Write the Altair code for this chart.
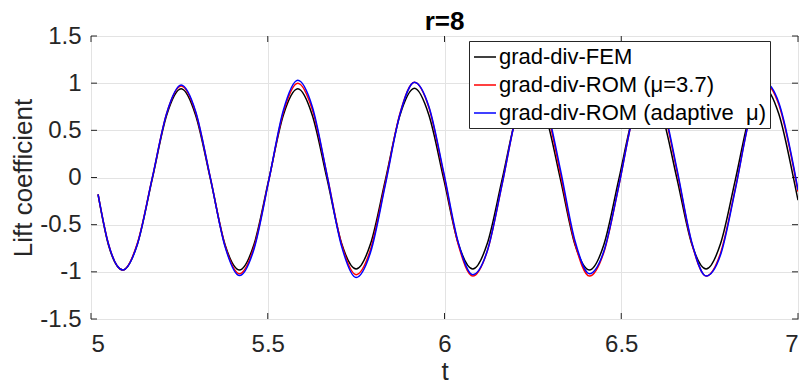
import altair as alt
import pandas as pd

# ---- data ----
t = [5.02, 5.049, 5.09, 5.131, 5.173, 5.214, 5.255, 5.296, 5.338, 5.379,
     5.42, 5.461, 5.503, 5.544, 5.585, 5.626, 5.668, 5.709, 5.75, 5.791,
     5.833, 5.874, 5.915, 5.956, 5.998, 6.039, 6.08, 6.121, 6.163, 6.204,
     6.245, 6.286, 6.328, 6.369, 6.41, 6.451, 6.493, 6.534, 6.575, 6.616,
     6.658, 6.699, 6.74, 6.781, 6.823, 6.864, 6.905, 6.946, 6.988, 7.0]

fem = [-0.18, -0.71, -0.98, -0.71, -0.02, 0.66, 0.94, 0.66, -0.02, -0.71,
       -0.98, -0.71, -0.02, 0.66, 0.94, 0.66, -0.02, -0.70, -0.97, -0.70,
       -0.02, 0.66, 0.945, 0.66, -0.02, -0.70, -0.97, -0.70, -0.02, 0.66,
       0.94, 0.66, -0.02, -0.71, -0.98, -0.71, -0.02, 0.66, 0.94, 0.66,
       -0.02, -0.70, -0.97, -0.70, -0.02, 0.67, 0.95, 0.67, -0.02, -0.24]

rom_37 = [-0.18, -0.70, -0.98, -0.70, -0.01, 0.68, 0.97, 0.69, -0.01, -0.72,
          -1.02, -0.74, -0.03, 0.69, 1.00, 0.72, 0.02, -0.71, -1.03, -0.76,
          -0.05, 0.68, 1.01, 0.74, 0.03, -0.71, -1.045, -0.78, -0.07, 0.67,
          1.01, 0.75, 0.04, -0.70, -1.045, -0.79, -0.09, 0.66, 1.01, 0.76,
          0.06, -0.69, -1.045, -0.80, -0.11, 0.64, 1.00, 0.77, 0.09, -0.15]

rom_adapt = [-0.18, -0.70, -0.98, -0.71, -0.01, 0.68, 0.98, 0.70, -0.01, -0.73,
             -1.04, -0.76, -0.03, 0.71, 1.03, 0.75, 0.02, -0.73, -1.06, -0.79,
             -0.07, 0.67, 1.01, 0.75, 0.05, -0.69, -1.03, -0.78, -0.07, 0.67,
             1.02, 0.78, 0.08, -0.67, -1.02, -0.78, -0.09, 0.66, 1.02, 0.79,
             0.08, -0.68, -1.045, -0.82, -0.12, 0.64, 1.01, 0.79, 0.11, -0.13]

series_names = ["grad-div-FEM", "grad-div-ROM (μ=3.7)", "grad-div-ROM (adaptive\u00a0\u00a0μ)"]
series_colors = ["#000000", "#FF0000", "#0000FF"]
x_ticks = [5, 5.5, 6, 6.5, 7]
y_ticks = [-1.5, -1, -0.5, 0, 0.5, 1, 1.5]

W, H = 707, 283
FONT = "Liberation Sans"
AX = "#262626"

frames = [pd.DataFrame({"t": t, "value": v, "series": n})
          for n, v in zip(series_names, [fem, rom_37, rom_adapt])]

x_axis = alt.Axis(values=x_ticks, title="t", labelExpr="datum.value + ''",
                  grid=True, domain=False, ticks=False, tickSize=0,
                  labelPadding=13, titleY=60, titleBaseline="alphabetic")
y_axis = alt.Axis(values=y_ticks, title="Lift coefficient", labelExpr="datum.value + ''",
                  grid=True, domain=False, ticks=False, tickSize=0,
                  labelPadding=10, titleX=-60, titleY=H / 2, titleBaseline="alphabetic")

x_enc = alt.X("t:Q", scale=alt.Scale(domain=[5, 7], nice=False, zero=False), axis=x_axis)
y_enc = alt.Y("value:Q", scale=alt.Scale(domain=[-1.5, 1.5], nice=False, zero=False), axis=y_axis)
color_enc = alt.Color(
    "series:N",
    scale=alt.Scale(domain=series_names, range=series_colors),
    legend=alt.Legend(title=None, orient="none", legendX=378, legendY=5),
)

lines = [
    alt.Chart(df).mark_line(interpolate="monotone", strokeWidth=1.5, clip=True)
    .encode(x=x_enc, y=y_enc, color=color_enc)
    for df in frames
]

xt = pd.DataFrame({"t": x_ticks})
yt = pd.DataFrame({"value": y_ticks})
tick_bottom = alt.Chart(xt).mark_rule(color=AX, strokeWidth=1).encode(
    x=x_enc, y=alt.value(H), y2=alt.value(H - 6))
tick_top = alt.Chart(xt).mark_rule(color=AX, strokeWidth=1).encode(
    x=x_enc, y=alt.value(0), y2=alt.value(6))
tick_left = alt.Chart(yt).mark_rule(color=AX, strokeWidth=1).encode(
    y=y_enc, x=alt.value(0), x2=alt.value(6))
tick_right = alt.Chart(yt).mark_rule(color=AX, strokeWidth=1).encode(
    y=y_enc, x=alt.value(W), x2=alt.value(W - 6))

chart = (
    alt.layer(tick_bottom, tick_top, tick_left, tick_right, *lines)
    .properties(
        width=W, height=H,
        title=alt.TitleParams(text="r=8", font=FONT, fontSize=26, fontWeight="bold",
                              color="#000000", anchor="middle", baseline="alphabetic",
                              frame="group", offset=0, dy=32),
        autosize=alt.AutoSizeParams(type="none"),
        padding={"left": 91, "top": 36, "right": 6, "bottom": 66},
    )
    .configure(background="white")
    .configure_view(stroke=AX, strokeWidth=1)
    .configure_axis(labelFont=FONT, labelFontSize=24, labelColor=AX,
                    titleFont=FONT, titleFontSize=26, titleFontWeight="normal",
                    titleColor=AX, gridColor="#e3e3e3", gridWidth=1)
    .configure_legend(labelFont=FONT, labelFontSize=22, labelColor="#000000",
                      symbolType="stroke", symbolSize=484, symbolStrokeWidth=1.5,
                      labelOffset=2, rowPadding=5, padding=4, labelLimit=500,
                      fillColor="white", strokeColor=AX)
)

chart.save("out.html", embed_options={"renderer": "svg", "actions": False})
